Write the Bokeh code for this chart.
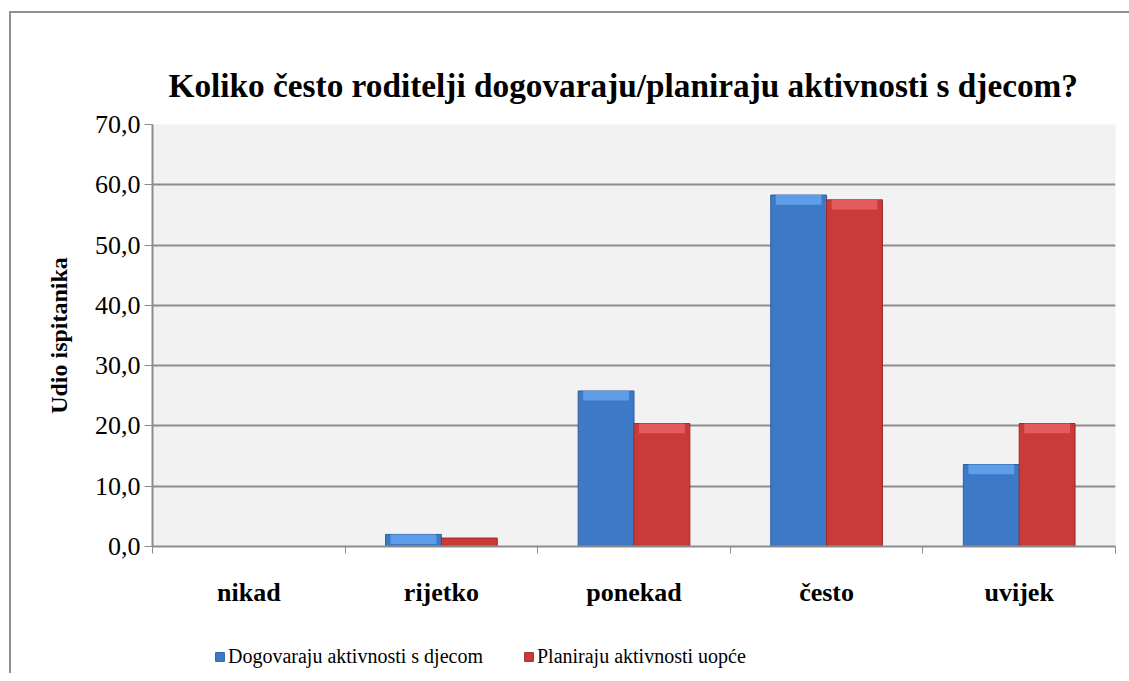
from bokeh.plotting import figure
from bokeh.layouts import column
from bokeh.models import ColumnDataSource, FixedTicker, Legend, LegendItem, Range1d
from bokeh.embed import file_html
from bokeh.resources import INLINE

# ---- data ----
categories = ["nikad", "rijetko", "ponekad", "često", "uvijek"]
dogovaraju = [0.0, 2.0, 25.8, 58.3, 13.6]
planiraju = [0.0, 1.4, 20.4, 57.5, 20.4]
y_ticks = [0, 10, 20, 30, 40, 50, 60, 70]
series_names = ["Dogovaraju aktivnosti s djecom", "Planiraju aktivnosti uopće"]
title_text = "Koliko često roditelji dogovaraju/planiraju aktivnosti s djecom?"
y_label = "Udio ispitanika"

# ---- styles ----
FONT = "Liberation Serif"
BLUE, BLUE_TOP, BLUE_EDGE = "#3d79c6", "#5e9de8", "#2f5f9e"
RED, RED_TOP, RED_EDGE = "#c93a38", "#e45c59", "#9e2a28"
GRID = "#8c8c8c"
BAR_W = 0.29
BEVEL = 1.6

xs = list(range(1, len(categories) + 1))
src = ColumnDataSource(dict(
    xd=[x - BAR_W / 2 for x in xs],
    xp=[x + BAR_W / 2 for x in xs],
    d=dogovaraju,
    p=planiraju,
    d_bev=[v - BEVEL if v > BEVEL else v for v in dogovaraju],
    p_bev=[v - BEVEL if v > BEVEL else v for v in planiraju],
))

p = figure(width=1118, height=610, x_range=Range1d(0.5, len(categories) + 0.5),
           y_range=Range1d(0, 70), output_backend="svg", toolbar_location=None,
           min_border_left=141, min_border_right=14, min_border_top=111,
           min_border_bottom=77, title=title_text)

p.background_fill_color = "#f2f2f2"
p.border_fill_color = "white"
p.outline_line_color = None

p.title.text_font = FONT
p.title.text_font_style = "bold"
p.title.text_font_size = "33.3px"
p.title.align = "left"
p.title.offset = 16
p.title.standoff = 42
p.title.text_color = "black"

p.vbar(x="xd", top="d", width=BAR_W, source=src, fill_color=BLUE,
       line_color=BLUE_EDGE, line_width=1)
p.vbar(x="xd", top="d", bottom="d_bev", width=BAR_W * 0.82, source=src,
       fill_color=BLUE_TOP, line_color=None)
p.vbar(x="xp", top="p", width=BAR_W, source=src, fill_color=RED,
       line_color=RED_EDGE, line_width=1)
p.vbar(x="xp", top="p", bottom="p_bev", width=BAR_W * 0.82, source=src,
       fill_color=RED_TOP, line_color=None)

# grid
p.xgrid.visible = False
p.ygrid.grid_line_color = GRID
p.ygrid.grid_line_width = 2
p.ygrid.ticker = FixedTicker(ticks=y_ticks)

# y axis
p.yaxis.ticker = FixedTicker(ticks=y_ticks)
p.yaxis.major_label_overrides = {t: f"{t:.1f}".replace(".", ",") for t in y_ticks}
p.yaxis.major_label_text_font = FONT
p.yaxis.major_label_text_font_size = "26px"
p.yaxis.major_label_text_color = "black"
p.yaxis.major_tick_out = 8
p.yaxis.major_tick_in = 0
p.yaxis.minor_tick_out = 0
p.yaxis.minor_tick_in = 0
p.yaxis.major_tick_line_color = GRID
p.yaxis.axis_line_color = GRID
p.yaxis.axis_line_width = 2
p.yaxis.major_label_standoff = 4
p.yaxis.axis_label = y_label
p.yaxis.axis_label_text_font = FONT
p.yaxis.axis_label_text_font_style = "bold"
p.yaxis.axis_label_text_font_size = "24px"
p.yaxis.axis_label_text_color = "black"
p.yaxis.axis_label_standoff = 20

# x axis
p.xaxis.ticker = FixedTicker(ticks=xs, minor_ticks=[x - 0.5 for x in xs] + [xs[-1] + 0.5])
p.xaxis.major_label_overrides = {x: c for x, c in zip(xs, categories)}
p.xaxis.major_label_text_font = FONT
p.xaxis.major_label_text_font_style = "bold"
p.xaxis.major_label_text_font_size = "26px"
p.xaxis.major_label_text_color = "black"
p.xaxis.major_tick_out = 0
p.xaxis.major_tick_in = 0
p.xaxis.minor_tick_out = 7
p.xaxis.minor_tick_in = 0
p.xaxis.minor_tick_line_color = GRID
p.xaxis.axis_line_color = GRID
p.xaxis.axis_line_width = 2
p.xaxis.major_label_standoff = 24

# ---- legend strip (separate figure, no axes; its bars lie outside its view) ----
lg = figure(width=1118, height=50, x_range=Range1d(0.5, len(categories) + 0.5),
            y_range=Range1d(1000, 1001), output_backend="svg",
            toolbar_location=None, x_axis_location=None, y_axis_location=None,
            min_border=0)
lg.grid.visible = False
lg.outline_line_color = None
lg.background_fill_color = "white"
lg.border_fill_color = "white"
k1 = lg.vbar(x="xd", top="d", width=BAR_W, source=src, fill_color=BLUE,
             line_color=BLUE_EDGE)
k2 = lg.vbar(x="xp", top="p", width=BAR_W, source=src, fill_color=RED,
             line_color=RED_EDGE)
legend = Legend(items=[LegendItem(label=series_names[0], renderers=[k1]),
                       LegendItem(label=series_names[1], renderers=[k2])],
                orientation="horizontal", location=(62, 5))
legend.label_text_font = FONT
legend.label_text_font_size = "20px"
legend.label_text_color = "black"
legend.glyph_width = 11
legend.glyph_height = 11
legend.label_standoff = 3
legend.spacing = 40
legend.padding = 0
legend.margin = 0
legend.border_line_color = None
legend.background_fill_alpha = 0
lg.add_layout(legend)

layout = column(p, lg, spacing=0)
layout.styles = {"border-left": "2px solid #8f8f8f", "border-top": "2px solid #8f8f8f",
                 "margin-left": "9px", "margin-top": "11px"}

open("out.html", "w").write(file_html(layout, INLINE))
